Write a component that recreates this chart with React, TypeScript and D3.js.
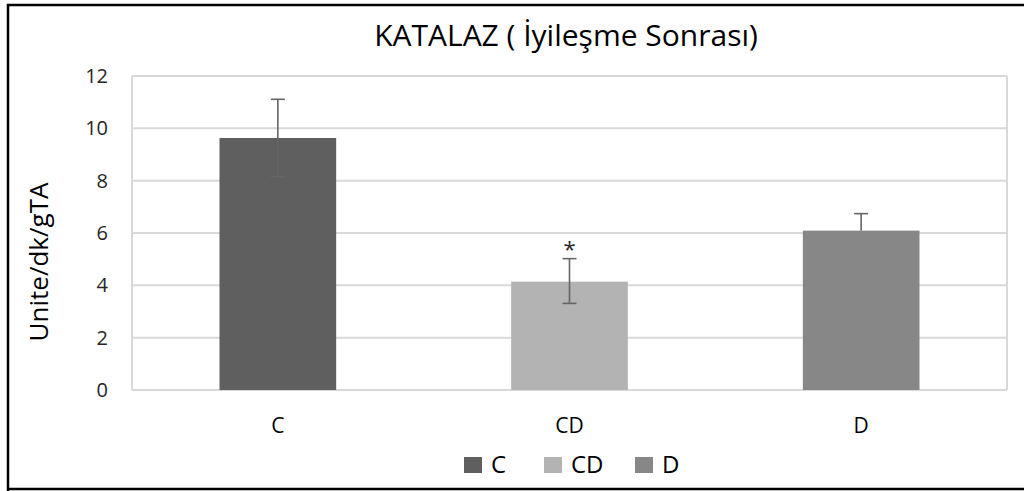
import React from "react";
import * as d3 from "d3";

const categories = ["C", "CD", "D"];
const values = [9.63, 4.14, 6.09];
const errPlus = [1.48, 0.88, 0.65];
const errMinus = [1.48, 0.83, 0];
const colors = ["#5f5f5f", "#b3b3b3", "#878787"];
const yTicks = [0, 2, 4, 6, 8, 10, 12];
const marks = ["", "*", ""];
const title = "KATALAZ ( İyileşme Sonrası)";
const yTitle = "Unite/dk/gTA";

const W = 1024;
const H = 491;
const plot = { left: 132, right: 1007, top: 76, bottom: 390 };
const font = "'Open Sans', sans-serif";

export default function App() {
  const x = d3
    .scaleBand<string>()
    .domain(categories)
    .range([plot.left, plot.right])
    .paddingInner(0.6)
    .paddingOuter(0.3);
  const y = d3.scaleLinear().domain([0, 12]).range([plot.bottom, plot.top]);
  const bw = x.bandwidth();
  const cap = 7;
  const legendX = [464, 544, 635];
  return (
    <svg
      width={W}
      height={H}
      style={{ position: "absolute", left: 0, top: 0, display: "block" }}
    >
      <rect x={0} y={0} width={W} height={H} fill="#fff" />
      <path d="M8,491 L8,5 L1024,5 M8,489 L1024,489" stroke="#000" strokeWidth={2.5} fill="none" />
      {yTicks.map((t) => (
        <g key={t}>
          <line
            x1={plot.left}
            x2={plot.right}
            y1={y(t)}
            y2={y(t)}
            stroke="#d9d9d9"
            strokeWidth={2}
          />
          <text
            x={108}
            y={y(t)}
            dy="0.35em"
            textAnchor="end"
            fontFamily={font}
            fontSize={20}
            fill="#262626"
          >
            {t}
          </text>
        </g>
      ))}
      <line x1={plot.left} x2={plot.left} y1={plot.top} y2={plot.bottom} stroke="#d9d9d9" strokeWidth={2} />
      <line x1={plot.right} x2={plot.right} y1={plot.top} y2={plot.bottom} stroke="#d9d9d9" strokeWidth={2} />
      {categories.map((c, i) => {
        const x0 = x(c)!;
        const cx = x0 + bw / 2;
        const top = y(values[i] + errPlus[i]);
        const bot = y(values[i] - errMinus[i]);
        return (
          <g key={c}>
            <rect x={x0} y={y(values[i])} width={bw} height={y(0) - y(values[i])} fill={colors[i]} />
            <line x1={cx} x2={cx} y1={top} y2={bot} stroke="#666" strokeWidth={1.6} />
            <line x1={cx - cap} x2={cx + cap} y1={top} y2={top} stroke="#666" strokeWidth={1.6} />
            {errMinus[i] > 0 && (
              <line x1={cx - cap} x2={cx + cap} y1={bot} y2={bot} stroke="#666" strokeWidth={1.6} />
            )}
            {marks[i] && (
              <text x={cx} y={top - 2} textAnchor="middle" fontFamily={font} fontSize={22} fill="#262626">
                {marks[i]}
              </text>
            )}
            <text x={cx} y={433} textAnchor="middle" fontFamily={font} fontSize={21} fill="#000">
              {c}
            </text>
          </g>
        );
      })}
      <text x={566} y={46} textAnchor="middle" fontFamily={font} fontSize={30} fill="#000">
        {title}
      </text>
      <text
        transform={`translate(48,262) rotate(-90)`}
        textAnchor="middle"
        fontFamily={font}
        fontSize={26}
        fill="#000"
      >
        {yTitle}
      </text>
      {categories.map((c, i) => {
        const lx = legendX[i];
        return (
          <g key={"lg" + c}>
            <rect x={lx} y={457} width={18} height={16} fill={colors[i]} />
            <text x={lx + 27} y={473} fontFamily={font} fontSize={24} fill="#000">
              {c}
            </text>
          </g>
        );
      })}
    </svg>
  );
}
